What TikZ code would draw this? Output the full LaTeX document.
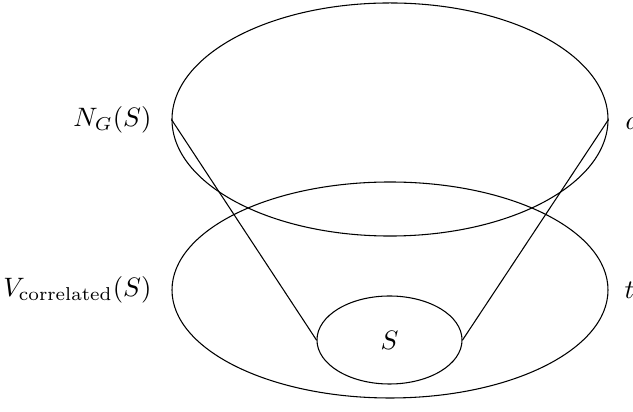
\documentclass[tikz,border=0pt]{standalone}
\usetikzlibrary{shapes.geometric}
\begin{document}
\begin{tikzpicture}[x=0.375pt,y=-0.375pt,
  oval/.style={draw,ellipse,inner sep=0pt},
  lbl/.style={inner sep=0pt}]
\useasboundingbox (0,0) rectangle (633,412);
\begin{scope}
\clip (0,0) rectangle (633,412);
\node[oval,minimum width=163.5pt,minimum height=87.4pt] (top) at (390,119.5) {};
\node[oval,minimum width=163.5pt,minimum height=81pt] (bot) at (390,290) {};
\node[oval,minimum width=54.4pt,minimum height=33pt] (s) at (389.5,340) {$S$};
\draw (top.west) -- (s.west);
\draw (top.east) -- (s.east);
\node[lbl,anchor=east] (ng) at (152,120) {$N_G(S)$};
\node[lbl,anchor=east] (vc) at (152,290) {$V_{\mathrm{correlated}}(S)$};
\node[lbl,anchor=west] (d) at (625,120) {$d$};
\node[lbl,anchor=west] (t) at (624,290) {$t$};
\end{scope}
\end{tikzpicture}
\end{document}
